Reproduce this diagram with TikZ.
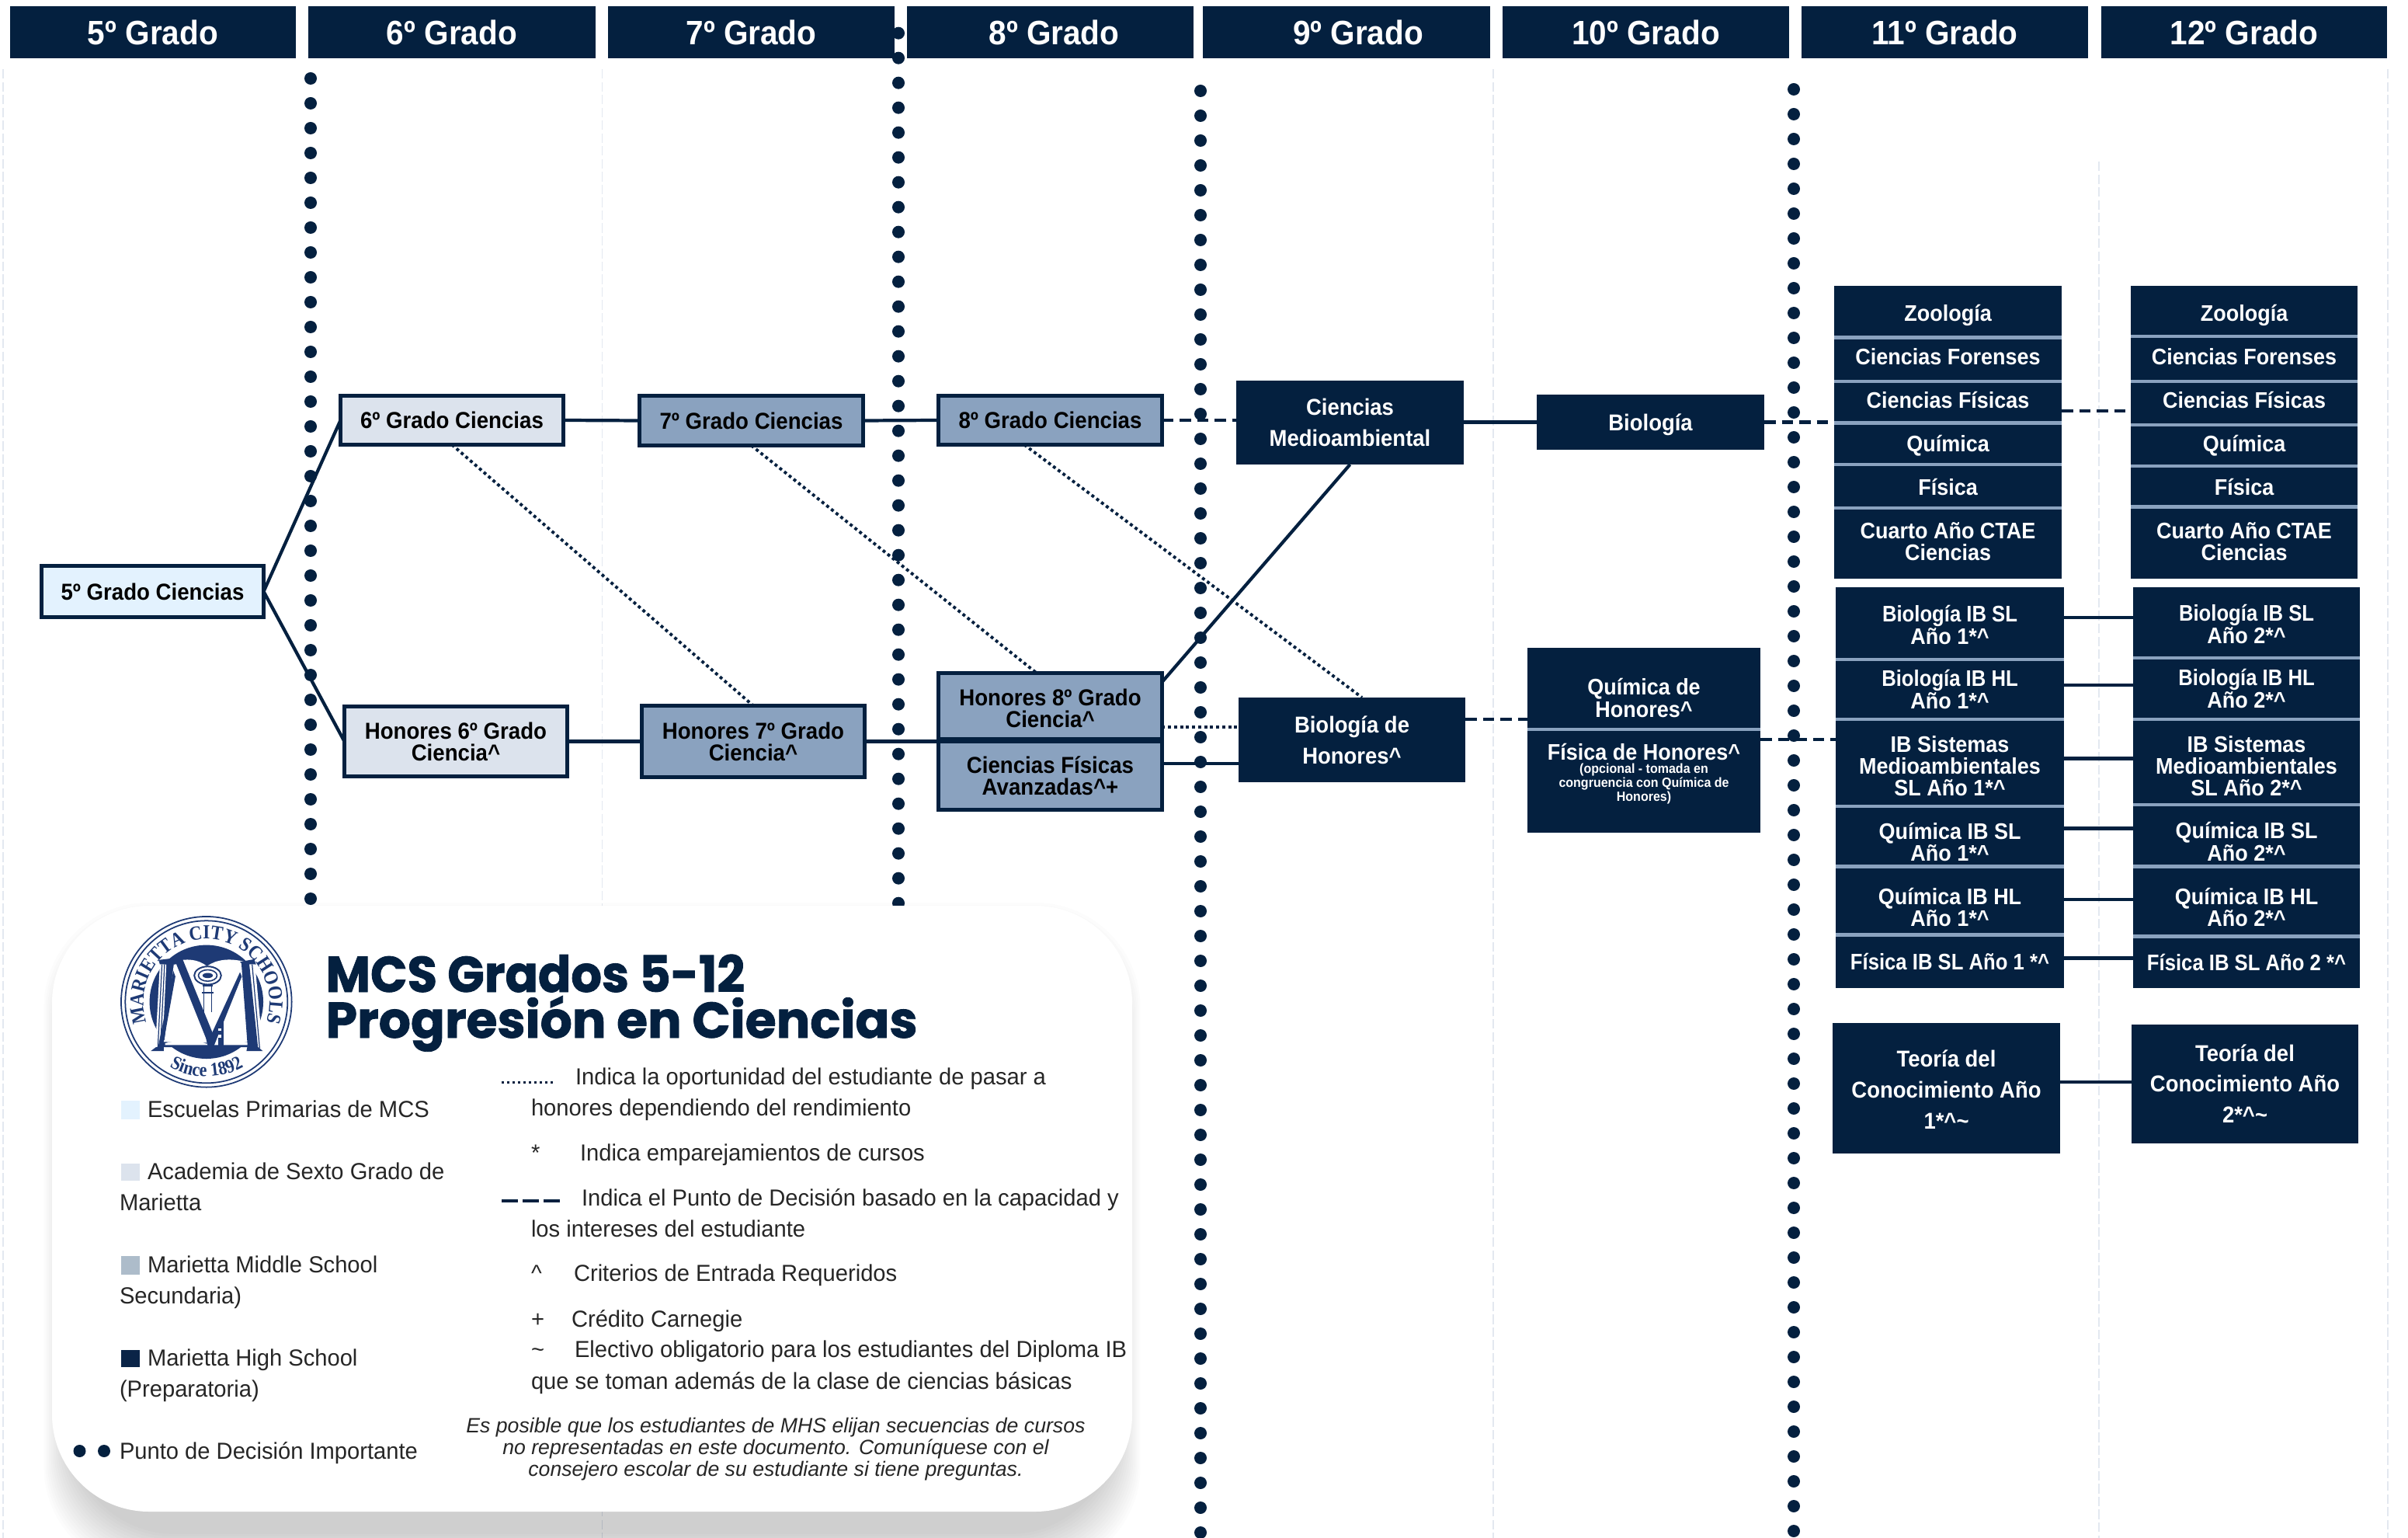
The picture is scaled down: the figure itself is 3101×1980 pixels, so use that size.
\documentclass[tikz,border=0pt]{standalone}
\usepackage{fontspec}
\setmainfont{Liberation Sans}
\newfontfamily\boxfont[FakeStretch=0.93]{Liberation Sans}
\newfontfamily\ibfont[FakeStretch=0.885]{Liberation Sans}
\newfontfamily\legfont[FakeStretch=0.975]{Liberation Sans}
\newfontfamily\ttlfont[BoldFeatures={FakeBold=1.3}]{Poppins}
\newfontfamily\ttlfontb[BoldFeatures={FakeBold=1.3},FakeStretch=0.965]{Poppins}
\newfontfamily\serf[FakeStretch=0.9]{Liberation Serif}
\usetikzlibrary{decorations.text,calc}
\AtBeginDocument{\lineskiplimit=-20pt\relax}
\definecolor{navb}{HTML}{04203F}
\definecolor{midb}{HTML}{8AA2BF}
\definecolor{lite}{HTML}{E3F2FE}
\definecolor{six}{HTML}{DCE3ED}
\definecolor{faint}{HTML}{E3E8F0}
\definecolor{sw3}{HTML}{ADBCCA}
\definecolor{sw4}{HTML}{0A2447}
\definecolor{logob}{HTML}{1E3A75}
\newcommand\crt{\char"5E\relax}
\newcommand\tld{\char"7E\relax}
\newcommand\dn[1]{\rule{0pt}{\dimexpr .97em+#1\dimexpr 0.28453pt\relax\relax}}
\newcommand\up[1]{\rule[-\dimexpr .25em+#1\dimexpr 0.28453pt\relax\relax]{0pt}{\dimexpr .25em+#1\dimexpr 0.28453pt\relax\relax}}
\newcommand\ib[1]{{\ibfont\bfseries #1}}
\newcommand\mybox[8]{% style,inset,name,x1,y1,x2,y2,text
  \pgfmathsetmacro\bW{(#6-#4-#2)*0.01}%
  \pgfmathsetmacro\bH{(#7-#5-#2)*0.01}%
  \node[#1,minimum width=\bW cm,minimum height=\bH cm] (#3) at ({(#4+#6)/2},{(#5+#7)/2}) {\rule{0pt}{.97em}#8\rule[-.25em]{0pt}{.25em}};%
}
\newcommand\bord[7][]{\mybox{bordbox,#1}{5}{#2}{#3}{#4}{#5}{#6}{#7}}
\newcommand\cell[7][]{\mybox{navybox,#1}{0}{#2}{#3}{#4}{#5}{#6}{#7}}
\newcommand\legl[3]{\node[legtext] at (#1,#2) {#3};}
\tikzset{
  x=0.01cm,y=-0.01cm,
  base/.style={align=center,inner sep=0pt,outer sep=0pt},
  bordbox/.style={base,draw=navb,line width=1.42pt,font=\boxfont\bfseries\fontsize{8.45}{8}\selectfont,text=black},
  navybox/.style={base,fill=navb,font=\boxfont\bfseries\fontsize{8.25}{8}\selectfont,text=white},
  wide/.style={font=\boxfont\bfseries\fontsize{8.4}{11.3}\selectfont},
  hdr/.style={base,fill=navb,text=white,font=\boxfont\bfseries\fontsize{12.4}{14}\selectfont},
  conn/.style={navb,line width=1.2pt},
  dashc/.style={navb,line width=1.25pt,dash pattern=on 4.2pt off 2.2pt},
  dotc/.style={navb,line width=1.1pt,dash pattern=on 1.1pt off 1.1pt},
  divider/.style={midb,line width=1.3pt},
  legtext/.style={anchor=base west,inner sep=0pt,outer sep=0pt,font=\legfont\fontsize{8.5}{10}\selectfont,text=black!85},
  fline/.style={faint,line width=0.45pt,dash pattern=on 3.5pt off 1.2pt},
  bigdot/.style={fill=navb},
}
\begin{document}
\begin{tikzpicture}
\useasboundingbox (0,0) rectangle (3101,1980);
\fill[white] (0,0) rectangle (3101,1980);
\clip (0,0) rectangle (3101,1980);
% faint column lines
\foreach \fx/\fy in {4/89,775.5/89,1923/89,2703/208,3075/89}{\draw[fline] (\fx,\fy) -- (\fx,1980);}
% headers
\mybox{hdr}{0}{hd5}{13}{8}{381}{75}{5º Grado}
\mybox{hdr}{0}{hd6}{397}{8}{767}{75}{6º Grado}
\mybox{hdr}{0}{hd7}{783}{8}{1152}{75}{7º Grado}
\mybox{hdr}{0}{hd8}{1168}{8}{1537}{75}{\hspace*{10\dimexpr 0.28453pt\relax}8º Grado}
\mybox{hdr}{0}{hd9}{1549}{8}{1919}{75}{\hspace*{30\dimexpr 0.28453pt\relax}9º Grado}
\mybox{hdr}{0}{hd10}{1935}{8}{2304}{75}{10º Grado}
\mybox{hdr}{0}{hd11}{2320}{8}{2689}{75}{11º Grado}
\mybox{hdr}{0}{hd12}{2706}{8}{3074}{75}{12º Grado}
% bordered boxes
\bord[fill=lite]{g5}{51}{726}{342}{797}{5º Grado Ciencias}
\bord[fill=six]{g6}{436}{507}{728}{575}{6º Grado Ciencias}
\bord[fill=six]{h6}{441}{907}{733}{1002}{Honores 6º Grado\\Ciencia\crt}
\bord[fill=midb]{g7}{821}{507}{1114}{576}{7º Grado Ciencias}
\bord[fill=midb]{h7}{824}{906}{1116}{1003}{Honores 7º Grado\\Ciencia\crt}
\bord[fill=midb]{g8}{1206}{507}{1499}{575}{8º Grado Ciencias}
\bord[fill=midb]{h8}{1206}{864}{1499}{954}{\dn{6}Honores 8º Grado\\Ciencia\crt}
\bord[fill=midb]{cf}{1206}{952}{1499}{1045}{Ciencias Físicas\\Avanzadas\crt+}
% navy boxes
\cell[wide]{cm}{1592}{490}{1885}{598}{Ciencias\\Medioambiental}
\cell[wide]{bh}{1595}{898}{1887}{1007}{Biología de\\Honores\crt}
\cell[wide]{bio}{1979}{508}{2272}{579}{Biología}
\cell{qh}{1967}{834}{2267}{939}{\dn{24}Química de\\Honores\crt}
\cell{fh}{1967}{939}{2267}{1072}{}
\node[base,text=white,font=\boxfont\bfseries\fontsize{8.25}{8}\selectfont] (fhm) at (2117,968) {Física de Honores\crt};
\node[base,text=white,font=\boxfont\bfseries\fontsize{4.9}{5}\selectfont] (fhs) at (2117,1009) {(opcional - tomada en\\congruencia con Química de\\Honores)};
\draw[divider] (qh.south west) -- (qh.south east);
% grade 11 electives
\cell{az}{2362}{368}{2655}{434.5}{\dn{4}Zoología}
\cell{af}{2362}{434.5}{2655}{491}{Ciencias Forenses\up{7}}
\cell{ac}{2362}{491}{2655}{544.5}{Ciencias Físicas\up{6}}
\cell{aq}{2362}{544.5}{2655}{598}{Química}
\cell{ap}{2362}{598}{2655}{654}{\dn{2}Física}
\cell{ao}{2362}{654}{2655}{745}{Cuarto Año CTAE\\Ciencias\up{5}}
% grade 12 electives
\cell{bz}{2744}{368}{3036}{433}{\dn{5}Zoología}
\cell{bf}{2744}{433}{3036}{491}{Ciencias Forenses\up{6}}
\cell{bc}{2744}{491}{3036}{547}{Ciencias Físicas\up{8}}
\cell{bq}{2744}{547}{3036}{600}{Química\up{5}}
\cell{bp}{2744}{600}{3036}{652.5}{\dn{2}Física}
\cell{bo}{2744}{652.5}{3036}{745}{Cuarto Año CTAE\\Ciencias\up{4}}
% IB year 1
\cell{c1}{2364}{756}{2658}{849}{\dn{4}\ib{Biología IB SL}\\Año 1*\crt}
\cell{c2}{2364}{849}{2658}{926}{\ib{Biología IB HL}\\Año 1*\crt}
\cell{c3}{2364}{926}{2658}{1038}{\dn{8}IB Sistemas\\Medioambientales\\SL Año 1*\crt}
\cell{c4}{2364}{1038}{2658}{1115}{\dn{15}Química IB SL\\Año 1*\crt}
\cell{c5}{2364}{1115}{2658}{1203.5}{\dn{18}Química IB HL\\Año 1*\crt}
\cell{c6}{2364}{1203.5}{2658}{1272}{\ib{Física IB SL Año 1 *\crt}}
% IB year 2
\cell{d1}{2747}{756}{3039}{847}{\dn{4}\ib{Biología IB SL}\\Año 2*\crt}
\cell{d2}{2747}{847}{3039}{926}{\ib{Biología IB HL}\\Año 2*\crt}
\cell{d3}{2747}{926}{3039}{1036}{\dn{10}IB Sistemas\\Medioambientales\\SL Año 2*\crt}
\cell{d4}{2747}{1036}{3039}{1115}{\dn{16}Química IB SL\\Año 2*\crt}
\cell{d5}{2747}{1115}{3039}{1205.5}{\dn{16}Química IB HL\\Año 2*\crt}
\cell{d6}{2747}{1205.5}{3039}{1272}{\ib{Física IB SL Año 2 *\crt}}
\foreach \n in {az,af,ac,aq,ap,bz,bf,bc,bq,bp,c1,c2,c3,c4,c5,d1,d2,d3,d4,d5}{\draw[divider] (\n.south west) -- (\n.south east);}
% theory of knowledge
\cell[wide]{t1}{2360}{1317}{2653}{1485}{\dn{4}Teoría del\\Conocimiento Año\\1*\crt\tld}
\cell[wide]{t2}{2745}{1319}{3037}{1471.5}{Teoría del\\Conocimiento Año\\2*\crt\tld}
% connectors
\draw[conn] (g5.east) -- (g6.west);
\draw[conn] (g5.east) -- (h6.west);
\draw[conn] (g6.east) -- (g7.west);
\draw[conn] (g7.east) -- (g8.west);
\draw[conn] (h6.east) -- (h7.west);
\draw[conn] (h7.east) -- (h7.east -| h8.west);
\draw[dashc] (g8.east) -- (g8.east -| cm.west);
\draw[conn] (cm.east |- bio.west) -- (bio.west);
\draw[dashc] (bio.east) -- (bio.east -| ac.west);
\draw[dashc] (ac.east |- 0,529) -- (bc.west |- 0,529);
\draw[dotc] (g6.south) -- (h7.north);
\draw[dotc] (g7.south) -- (1335,0 |- h8.north);
\draw[dotc] (1319,0 |- g8.south) -- (1754,0 |- bh.north);
\draw[conn] (h8.east |- 0,878) -- (cm.south);
\draw[dotc] (h8.east |- 0,936) -- (bh.west |- 0,936);
\draw[conn] (cf.east |- 0,983) -- (bh.west |- 0,983);
\draw[dashc] (bh.east |- 0,926) -- (qh.west |- 0,926);
\draw[dashc] (fh.east |- 0,952) -- (c3.west |- 0,952);
\draw[conn] (c1.east |- 0,795) -- (d1.west |- 0,795);
\draw[conn] (c2.east |- 0,882) -- (d2.west |- 0,882);
\draw[conn] (c3.east |- 0,976.5) -- (d3.west |- 0,976.5);
\draw[conn] (c4.east |- 0,1066.5) -- (d4.west |- 0,1066.5);
\draw[conn] (c5.east |- 0,1158) -- (d5.west |- 0,1158);
\draw[conn] (c6.east |- 0,1233.5) -- (d6.west |- 0,1233.5);
\draw[conn] (t1.east |- 0,1393) -- (t2.west |- 0,1393);
% decision dots
\foreach \k in {0,...,33}{\fill[bigdot] (400,{101+32*\k}) circle (8);}
\foreach \k in {0,...,35}{\fill[bigdot] (1157,{42.7+32*\k}) circle (8);}
\foreach \k in {0,...,58}{\fill[bigdot] (1546,{117+32*\k}) circle (8);}
\foreach \k in {0,...,58}{\fill[bigdot] (2310,{115+32*\k}) circle (8);}
% legend panel shadow and panel
\foreach \s in {0,...,15}{
  \pgfmathsetmacro\e{(15-\s)*3.2}
  \fill[black,opacity=0.0135,rounded corners=1.35cm] ({90-\e*0.7},{1210-\e}) rectangle ({1435+\e*0.7},{1975+\e});
}
\fill[white,rounded corners=1.25cm] (67,1166) rectangle (1458,1946);
% logo
\begin{scope}[shift={(146,1170)},x=0.0033333cm,y=-0.0033333cm]
  \draw[logob,line width=0.5pt] (360,360) circle (330);
  \draw[logob,line width=0.5pt] (360,360) circle (314);
  \fill[logob] (360,360) circle (220);
  \fill[white] (195,530) -- (235,205) .. controls (280,190) and (330,195) .. (362,222) .. controls (400,195) and (450,190) .. (510,205) -- (545,530) -- cycle;
  \fill[logob] (175,198) -- (240,190) -- (270,195) -- (240,215) -- (180,215) -- cycle;
  \fill[logob] (490,205) -- (545,195) -- (552,215) -- (500,215) -- cycle;
  \fill[white] (180,215) -- (205,215) -- (190,540) -- (162,540) -- cycle;
  \draw[logob,line width=0.35pt] (188,215) -- (172,540);
  \draw[logob,line width=0.35pt] (198,215) -- (182,540);
  \fill[white] (525,215) -- (548,215) -- (578,540) -- (555,540) -- cycle;
  \draw[logob,line width=0.35pt] (537,215) -- (566,540);
  \fill[logob] (145,550) -- (165,535) -- (195,535) -- (195,550) -- cycle;
  \fill[logob] (515,550) -- (518,535) -- (560,535) -- (578,550) -- cycle;
  \fill[logob] (190,515) -- (360,518) -- (545,515) -- (545,535) -- (190,535) -- cycle;
  \fill[white] (200,520) .. controls (260,505) and (320,505) .. (360,522) .. controls (400,505) and (470,505) .. (535,520) -- (535,527) -- (200,527) -- cycle;
  \fill[logob] (238,200) -- (268,195) -- (388,490) -- (370,550) -- (358,500) -- cycle;
  \fill[logob] (490,245) -- (497,262) -- (382,548) -- (367,512) -- cycle;
  \fill[logob] (232,240) -- (240,262) -- (190,540) -- (172,540) -- cycle;
  \fill[logob] (495,205) -- (525,205) -- (560,540) -- (520,540) -- cycle;
  \draw[logob,line width=0.55pt] (365,258) ellipse (52 and 35);
  \draw[logob,line width=0.45pt] (365,258) ellipse (36 and 22);
  \fill[logob] (365,258) ellipse (20 and 10);
  \draw[logob,line width=0.5pt] (345,298) -- (385,298);
  \draw[logob,line width=0.5pt] (343,325) -- (387,325);
  \draw[logob,line width=0.5pt] (350,298) -- (350,440);
  \draw[logob,line width=0.5pt] (380,298) -- (380,400);
  \fill[logob] (405,430) rectangle (428,530);
  \fill[white] (405,462) rectangle (418,472);
  \fill[white] (405,488) rectangle (418,498);
\end{scope}
\begin{scope}[shift={(266,1290)},x=0.01cm,y=0.01cm]
  \path[decorate,decoration={text along path,text align=center,text={|\serf\bfseries\fontsize{7.3}{8}\selectfont\color{logob}|MARIETTA CITY SCHOOLS}}] (215:81) arc (215:-35:81);
  \path[decorate,decoration={text along path,text align=center,text={|\serf\bfseries\fontsize{7}{7}\selectfont\color{logob}|Since 1892}}] (228:96) arc (228:312:96);
\end{scope}
% title
\node[anchor=base west,inner sep=0pt,text=navb,font=\ttlfontb\bfseries\fontsize{18.4}{20}\selectfont] (ttla) at (419,1277) {MCS Grados 5-12};
\node[anchor=base west,inner sep=0pt,text=navb,font=\ttlfont\bfseries\fontsize{18.4}{20}\selectfont] (ttlb) at (419,1336) {Progresión en Ciencias};
% legend, left
\fill[lite] (156,1417) rectangle (180,1441);
\fill[six] (156,1498) rectangle (180,1520);
\fill[sw3] (156,1617) rectangle (180,1641);
\fill[sw4] (156,1738) rectangle (180,1760);
\legl{190}{1438}{Escuelas Primarias de MCS}
\legl{190}{1518}{Academia de Sexto Grado de}
\legl{154}{1558}{Marietta}
\legl{190}{1638}{Marietta Middle School}
\legl{154}{1678}{Secundaria)}
\legl{190}{1758}{Marietta High School}
\legl{154}{1798}{(Preparatoria)}
\fill[navb] (102.5,1868) circle (8);
\fill[navb] (134,1868) circle (8);
\legl{154}{1878}{Punto de Decisión Importante}
% legend, right
\coordinate (lda) at (646,1393.5);
\coordinate (ldb) at (713,1393.5);
\coordinate (lea) at (646,1546);
\coordinate (leb) at (721,1546);
\draw[navb,line width=0.7pt,dash pattern=on 0.85pt off 1.15pt] (lda) -- (ldb);
\draw[navb,line width=1.1pt,dash pattern=on 5.9pt off 1.8pt] (lea) -- (leb);
\legl{741}{1396}{Indica la oportunidad del estudiante de pasar a}
\legl{684}{1436}{honores dependiendo del rendimiento}
\legl{684}{1494}{*}
\legl{747}{1494}{Indica emparejamientos de cursos}
\legl{749}{1552}{Indica el Punto de Decisión basado en la capacidad y}
\legl{684}{1592}{los intereses del estudiante}
\legl{684}{1649}{\crt}
\legl{739}{1649}{Criterios de Entrada Requeridos}
\legl{684}{1708}{+}
\legl{736}{1708}{Crédito Carnegie}
\legl{684}{1747}{\tld}
\legl{740}{1747}{Electivo obligatorio para los estudiantes del Diploma IB}
\legl{684}{1788}{que se toman además de la clase de ciencias básicas}
\node[inner sep=0pt,align=center,text=black!85,font=\itshape\fontsize{7.58}{7.97}\selectfont] (note) at (999,1866) {Es posible que los estudiantes de MHS elijan secuencias de cursos\\no representadas en este documento. Comuníquese con el\\consejero escolar de su estudiante si tiene preguntas.};
\end{tikzpicture}
\end{document}
